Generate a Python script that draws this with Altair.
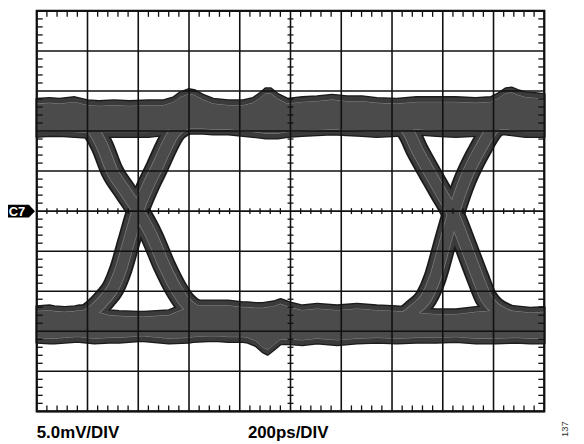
import altair as alt
import pandas as pd

# ---------------- grid (200 ps/div, 5 mV/div) ----------------
grid_ps = [0, 200, 400, 600, 800, 1000, 1200, 1400, 1600, 1800, 2000]
grid_mv = [-25, -20, -15, -10, -5, 0, 5, 10, 15, 20, 25]
minor_ps = [v for v in range(0, 2001, 40) if v % 200]
minor_mv = [v for v in range(-25, 26) if v % 5]

# ---------------- upper level band ----------------
top_ps = [0, 50, 90, 150, 200, 245, 305, 365, 440, 500, 540, 565, 598, 620, 655, 695, 755, 813,
          852, 880, 902, 922, 950, 988, 1047, 1105, 1164, 1223, 1281, 1340, 1418, 1496, 1574,
          1652, 1730, 1789, 1820, 1848, 1871, 1895, 1926, 1965, 2000]
top_hi = [14.0, 14.1, 14.0, 14.2, 13.8, 13.7, 13.8, 13.7, 13.8, 13.8, 14.2, 14.8, 15.2, 15.1, 14.5,
          14.0, 13.8, 13.8, 14.1, 14.7, 15.3, 15.3, 14.6, 14.0, 14.2, 14.3, 14.5, 14.3, 14.3, 14.1,
          14.0, 14.2, 14.2, 14.2, 14.1, 14.2, 14.7, 15.3, 15.4, 15.1, 14.8, 14.7, 14.6]
top_lo = [9.3, 9.4, 9.4, 9.3, 9.2, 9.3, 9.3, 9.3, 9.3, 9.5, 9.6, 9.6, 9.7, 9.7, 9.7, 9.6, 9.6, 9.4,
          9.3, 9.2, 9.1, 9.1, 9.1, 9.3, 9.4, 9.5, 9.6, 9.5, 9.4, 9.3, 9.4, 9.6, 9.4, 9.3, 9.4, 9.5,
          9.6, 9.6, 9.5, 9.4, 9.3, 9.3, 9.3]

# ---------------- lower level band ----------------
bot_ps = [0, 50, 70, 110, 150, 168, 227, 285, 324, 402, 422, 520, 598, 617, 676, 715, 754, 813,
          832, 863, 891, 910, 934, 961, 996, 1047, 1105, 1184, 1262, 1340, 1418, 1496, 1574,
          1652, 1730, 1809, 1887, 1945, 2000]
bot_hi = [-11.9, -11.8, -11.9, -12.0, -11.9, -11.8, -11.9, -12.4, -12.5, -12.6, -12.6, -12.4,
          -11.4, -11.2, -11.2, -11.2, -11.2, -11.4, -11.4, -11.5, -11.5, -11.4, -11.3, -11.0,
          -11.4, -11.8, -11.6, -11.8, -11.6, -11.8, -11.9, -12.1, -12.3, -12.3, -12.0, -11.8,
          -11.9, -12.1, -12.0]
bot_lo = [-16.4, -16.5, -16.5, -16.4, -16.3, -16.3, -16.5, -16.4, -16.4, -16.2, -16.2, -16.5,
          -16.4, -16.3, -16.2, -16.2, -16.3, -16.3, -16.4, -16.8, -17.6, -17.9, -17.3, -16.6,
          -16.6, -16.7, -16.5, -16.7, -16.5, -16.4, -16.5, -16.4, -16.4, -16.3, -16.5, -16.5,
          -16.4, -16.5, -16.5]

# ---------------- transitions (centre lines of the crossing traces) ----------------
fall1_ps = [90, 184, 227, 258, 297, 348, 398, 453, 504, 547, 582, 633, 723]
fall1_mv = [11.8, 11.2, 9.9, 8.1, 5.0, 2.5, 0.1, -3.1, -6.9, -9.6, -11.3, -12.6, -13.6]
rise1_ps = [82, 184, 234, 270, 301, 332, 363, 398, 438, 473, 512, 539, 586, 684]
rise1_mv = [-13.8, -13.2, -12.1, -10.9, -9.6, -7.2, -3.8, 0.0, 3.1, 5.4, 8.1, 9.7, 10.9, 11.8]
fall2_ps = [1359, 1438, 1473, 1496, 1527, 1586, 1641, 1691, 1738, 1770, 1801, 1855, 1945]
fall2_mv = [11.6, 10.9, 9.4, 7.8, 6.0, 2.7, -0.4, -4.4, -8.3, -10.8, -12.0, -13.0, -13.7]
rise2_ps = [1348, 1438, 1488, 1535, 1570, 1605, 1641, 1688, 1723, 1754, 1777, 1816, 1906]
rise2_mv = [-13.8, -13.4, -12.3, -10.8, -8.3, -4.4, -0.4, 3.9, 6.3, 8.1, 9.4, 10.8, 11.6]

W, H = 512, 404
INSET = 0.62  # contour inset (mV)

OUTLINE = "#1b1b1b"
OUTER = "#3b3b3b"
CONTOUR = "#8a8a8a"
TR_CONTOUR = "#767676"
INNER = "#4b4b4b"

xs = alt.Scale(domain=[0, 2000], nice=False, zero=False)
ys = alt.Scale(domain=[-25, 25], nice=False, zero=False)

bands = pd.concat([
    pd.DataFrame({"ps": top_ps, "hi": top_hi, "lo": top_lo, "band": "upper"}),
    pd.DataFrame({"ps": bot_ps, "hi": bot_hi, "lo": bot_lo, "band": "lower"}),
])
bands["hi_in"] = bands["hi"] - INSET
bands["lo_in"] = bands["lo"] + INSET

traces = pd.concat([
    pd.DataFrame({"ps": fall1_ps, "mv": fall1_mv, "trace": "f1"}),
    pd.DataFrame({"ps": rise1_ps, "mv": rise1_mv, "trace": "r1"}),
    pd.DataFrame({"ps": fall2_ps, "mv": fall2_mv, "trace": "f2"}),
    pd.DataFrame({"ps": rise2_ps, "mv": rise2_mv, "trace": "r2"}),
])


def band(hi, lo, **kw):
    return alt.Chart(bands).mark_area(interpolate="linear", **kw).encode(
        x=alt.X("ps:Q", scale=xs, axis=None),
        y=alt.Y(f"{hi}:Q", scale=ys, axis=None),
        y2=f"{lo}:Q",
        detail="band:N",
    )


def trace(width, color):
    return alt.Chart(traces).mark_line(
        interpolate="monotone", strokeWidth=width, color=color, strokeCap="butt", strokeJoin="round"
    ).encode(
        x=alt.X("ps:Q", scale=xs, axis=None),
        y=alt.Y("mv:Q", scale=ys, axis=None),
        detail="trace:N",
    )


layers = [
    band("hi", "lo", fill=OUTER, stroke=OUTLINE, strokeWidth=2.6, strokeJoin="round"),
    trace(23.5, OUTLINE),
    band("hi", "lo", fill=OUTER, strokeWidth=0),
    trace(20, OUTER),
    band("hi_in", "lo_in", fill=INNER, stroke=CONTOUR, strokeWidth=1),
    trace(12.5, TR_CONTOUR),
    band("hi_in", "lo_in", fill=INNER, strokeWidth=0),
    trace(10.8, INNER),
]

# grid
gx = pd.DataFrame({"ps": grid_ps})
gy = pd.DataFrame({"mv": grid_mv})
layers.append(alt.Chart(gx).mark_rule(color="#111", strokeWidth=1.6).encode(
    x=alt.X("ps:Q", scale=xs, axis=None)))
layers.append(alt.Chart(gy).mark_rule(color="#111", strokeWidth=1.6).encode(
    y=alt.Y("mv:Q", scale=ys, axis=None)))

# minor ticks
tick_x = pd.DataFrame({"ps": minor_ps})
tick_y = pd.DataFrame({"mv": minor_mv})


def xticks(at_mv, off, size):
    return alt.Chart(tick_x).mark_tick(orient="vertical", size=size, thickness=1.3,
                                       color="#111", yOffset=off, opacity=1).encode(
        x=alt.X("ps:Q", scale=xs, axis=None),
        y=alt.Y(datum=at_mv, scale=ys, axis=None))


def yticks(at_ps, off, size):
    return alt.Chart(tick_y).mark_tick(orient="horizontal", size=size, thickness=1.3,
                                       color="#111", xOffset=off, opacity=1).encode(
        y=alt.Y("mv:Q", scale=ys, axis=None),
        x=alt.X(datum=at_ps, scale=xs, axis=None))


layers += [
    xticks(25, 3, 6), xticks(-25, -3, 6), xticks(0, 0, 6),
    yticks(0, 3, 6), yticks(2000, -3, 6), yticks(1000, 0, 6),
]

# C7 marker
marker = pd.DataFrame({"mv": [0], "label": ["C7"]})
layers.append(alt.Chart(marker).mark_point(
    shape="M-1,-0.45L0.57,-0.45L1,0L0.57,0.45L-1,0.45Z", size=810, filled=True,
    color="black", opacity=1, strokeWidth=0).encode(
    x=alt.value(-16), y=alt.Y("mv:Q", scale=ys, axis=None)))
layers.append(alt.Chart(marker).mark_text(
    font="Liberation Sans", fontWeight="bold", fontSize=13, color="white",
    align="center", baseline="middle", dy=0.5).encode(
    x=alt.value(-20), y=alt.Y("mv:Q", scale=ys, axis=None), text="label:N"))

# scale annotations
notes = pd.DataFrame({"t": ["5.0mV/DIV", "200ps/DIV"], "px": [0, 213]})
layers.append(alt.Chart(notes).mark_text(
    font="Liberation Sans", fontWeight="bold", fontSize=17, color="black",
    align="left", baseline="alphabetic").encode(
    x=alt.X("px:Q", scale=None, axis=None), y=alt.value(431), text="t:N"))
fig = pd.DataFrame({"t": ["137"]})
layers.append(alt.Chart(fig).mark_text(
    font="Liberation Sans", fontSize=9.5, color="#333", angle=270,
    align="center", baseline="middle").encode(
    x=alt.value(533), y=alt.value(422), text="t:N"))

chart = alt.layer(*layers).properties(
    width=W, height=H,
    autosize=alt.AutoSizeParams(type="none"),
    padding={"left": 29, "top": 1, "right": 32, "bottom": 30},
).configure_view(stroke="#111", strokeWidth=2.2)

chart.save("out.html", embed_options={"renderer": "svg", "actions": False})
